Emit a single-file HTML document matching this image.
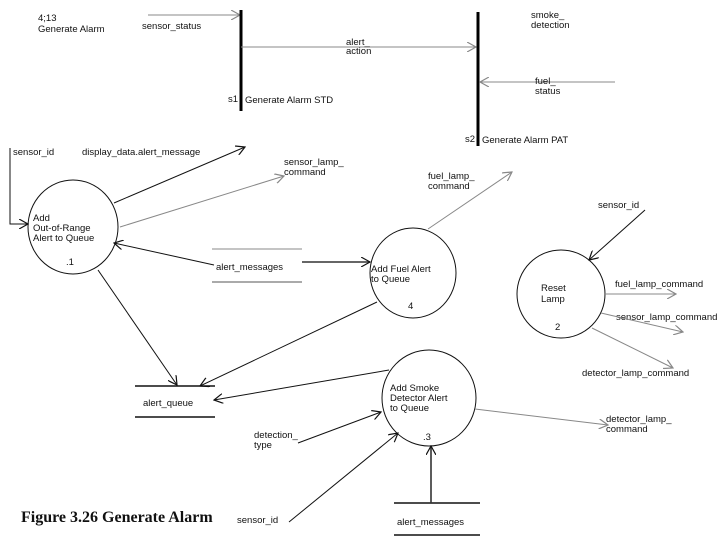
<!DOCTYPE html>
<html><head><meta charset="utf-8"><style>
html,body{margin:0;padding:0;background:#fff}
svg{display:block}
text{font-family:"Liberation Sans",sans-serif;font-size:9.5px;fill:#111}
</style></head><body>
<svg width="720" height="540" viewBox="0 0 720 540" xmlns="http://www.w3.org/2000/svg">
<defs>
<marker id="a" markerWidth="10" markerHeight="10" refX="9" refY="5" orient="auto" markerUnits="userSpaceOnUse"><path d="M0,0 L9,5 L0,10" fill="none" stroke="#111" stroke-width="1.2"/></marker>
<marker id="g" markerWidth="10" markerHeight="10" refX="9" refY="5" orient="auto" markerUnits="userSpaceOnUse"><path d="M0,0 L9,5 L0,10" fill="none" stroke="#888" stroke-width="1.2"/></marker>
</defs>
<text x="38" y="21">4;13</text>
<text x="38" y="32">Generate Alarm</text>
<line x1="148" y1="15" x2="240" y2="15" stroke="#888" marker-end="url(#g)"/>
<text x="142" y="29">sensor_status</text>
<line x1="241" y1="10" x2="241" y2="111" stroke="#000" stroke-width="3"/>
<text x="228" y="102">s1</text><text x="245" y="103">Generate Alarm STD</text>
<line x1="241" y1="47" x2="476" y2="47" stroke="#888" marker-end="url(#g)"/>
<text x="346" y="45">alert_</text><text x="346" y="54">action</text>
<line x1="478" y1="12" x2="478" y2="146" stroke="#000" stroke-width="3"/>
<text x="465" y="142">s2</text><text x="482" y="143">Generate Alarm PAT</text>
<text x="531" y="18">smoke_</text><text x="531" y="28">detection</text>
<line x1="615" y1="82" x2="480" y2="82" stroke="#888" marker-end="url(#g)"/>
<text x="535" y="84">fuel_</text><text x="535" y="94">status</text>

<ellipse cx="73" cy="227" rx="45" ry="47" fill="none" stroke="#111"/>
<text x="33" y="221">Add</text><text x="33" y="231">Out-of-Range</text><text x="33" y="241">Alert to Queue</text>
<text x="66" y="265">.1</text>
<text x="13" y="155">sensor_id</text>
<polyline points="10,148 10,224 28,224" fill="none" stroke="#111" marker-end="url(#a)"/>
<text x="82" y="155">display_data.alert_message</text>
<line x1="114" y1="203" x2="245" y2="147" stroke="#111" marker-end="url(#a)"/>
<text x="284" y="165">sensor_lamp_</text><text x="284" y="175">command</text>
<line x1="120" y1="227" x2="284" y2="176" stroke="#888" marker-end="url(#g)"/>

<line x1="212" y1="249" x2="302" y2="249" stroke="#888"/>
<line x1="212" y1="282" x2="302" y2="282" stroke="#555"/>
<text x="216" y="270">alert_messages</text>
<line x1="214" y1="265" x2="114" y2="243" stroke="#111" marker-end="url(#a)"/>
<line x1="302" y1="262" x2="370" y2="262" stroke="#333" stroke-width="1.6" marker-end="url(#a)"/>

<ellipse cx="413" cy="273" rx="43" ry="45" fill="none" stroke="#111"/>
<text x="371" y="272">Add Fuel Alert</text><text x="371" y="282">to Queue</text>
<text x="408" y="309">4</text>
<text x="428" y="179">fuel_lamp_</text><text x="428" y="189">command</text>
<line x1="428" y1="229" x2="512" y2="172" stroke="#888" marker-end="url(#g)"/>

<line x1="98" y1="270" x2="177" y2="385" stroke="#111" marker-end="url(#a)"/>
<line x1="377" y1="302" x2="200" y2="386" stroke="#111" marker-end="url(#a)"/>
<line x1="135" y1="386" x2="215" y2="386" stroke="#111" stroke-width="1.5"/>
<line x1="135" y1="417" x2="215" y2="417" stroke="#111" stroke-width="1.5"/>
<text x="143" y="406">alert_queue</text>

<ellipse cx="561" cy="294" rx="44" ry="44" fill="none" stroke="#111"/>
<text x="541" y="291">Reset</text><text x="541" y="302">Lamp</text>
<text x="555" y="330">2</text>
<text x="598" y="208">sensor_id</text>
<line x1="645" y1="210" x2="589" y2="260" stroke="#111" marker-end="url(#a)"/>
<text x="615" y="287">fuel_lamp_command</text>
<line x1="606" y1="294" x2="676" y2="294" stroke="#888" marker-end="url(#g)"/>
<text x="616" y="320">sensor_lamp_command</text>
<line x1="601" y1="313" x2="683" y2="332" stroke="#888" marker-end="url(#g)"/>
<text x="582" y="376">detector_lamp_command</text>
<line x1="592" y1="328" x2="673" y2="368" stroke="#888" marker-end="url(#g)"/>

<ellipse cx="429" cy="398" rx="47" ry="48" fill="none" stroke="#111"/>
<text x="390" y="391">Add Smoke</text><text x="390" y="401">Detector Alert</text><text x="390" y="411">to Queue</text>
<text x="423" y="440">.3</text>
<line x1="389" y1="370" x2="214" y2="400" stroke="#111" marker-end="url(#a)"/>
<text x="606" y="422">detector_lamp_</text><text x="606" y="432">command</text>
<line x1="475" y1="409" x2="608" y2="425" stroke="#888" marker-end="url(#g)"/>
<text x="254" y="438">detection_</text><text x="254" y="448">type</text>
<line x1="298" y1="443" x2="381" y2="412" stroke="#111" marker-end="url(#a)"/>
<text x="237" y="523">sensor_id</text>
<line x1="289" y1="522" x2="398" y2="433" stroke="#111" marker-end="url(#a)"/>
<line x1="394" y1="503" x2="480" y2="503" stroke="#111" stroke-width="1.5"/>
<line x1="394" y1="535" x2="480" y2="535" stroke="#111" stroke-width="1.5"/>
<text x="397" y="525">alert_messages</text>
<line x1="431" y1="503" x2="431" y2="446" stroke="#333" stroke-width="1.6" marker-end="url(#a)"/>

<text x="21" y="522" style="font-family:'Liberation Serif',serif;font-size:16px;font-weight:bold">Figure 3.26 Generate Alarm</text>
</svg>
</body></html>
